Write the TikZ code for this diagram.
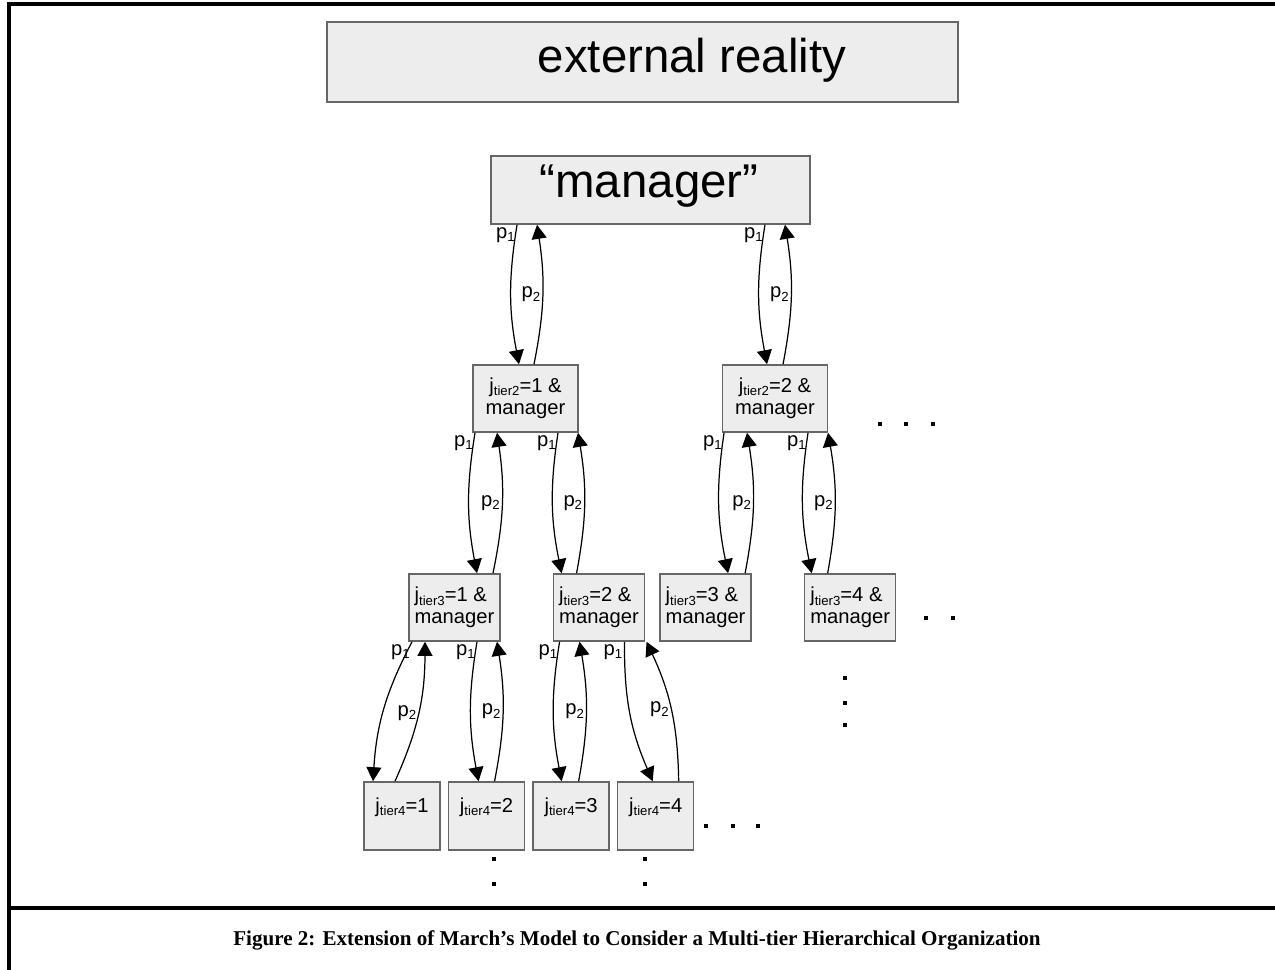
\documentclass[tikz,border=0pt]{standalone}
\usepackage{fontspec}
\setmainfont{Liberation Sans}
\newfontfamily\capfont{Liberation Serif}
\usetikzlibrary{arrows.meta,positioning}
\newcommand{\lowsub}[1]{\raisebox{-0.3ex}{\fontsize{7.5}{8}\selectfont #1}}

\begin{document}
\begin{tikzpicture}[x=0.02cm,y=-0.02cm,>={Triangle[length=8pt,width=8.5pt]},thick,
  box/.style={rectangle,draw=black!60,fill=black!7,line width=0.9pt,inner sep=0pt},
  bigtxt/.style={font=\fontsize{27}{30}\selectfont},
  midbox/.style={box,minimum width=2.1cm,minimum height=1.34cm,align=center,font=\fontsize{11.5}{12.5}\selectfont},
  subbox/.style={box,minimum width=1.82cm,minimum height=1.34cm,align=left,font=\fontsize{11.5}{12.3}\selectfont},
  leafbox/.style={box,minimum width=1.52cm,minimum height=1.36cm,align=left,font=\fontsize{11.5}{12.3}\selectfont},
  lbl/.style={font=\fontsize{11.5}{12}\selectfont,inner sep=1pt},
  link/.style={->,line width=0.7pt,bend right=10}]
  \useasboundingbox (0,0) rectangle (1275,970);
  % frame
  \draw[line width=2.3pt] (1275,4) -- (9,4) -- (9,970);
  \draw[line width=2.3pt] (9,908) -- (1275,908);

  \node[box,minimum width=12.62cm,minimum height=1.6cm] (reality) at (642.5,62) {};
  \node[bigtxt] (realitytxt) at (692,60) {external reality};
  \node[box,minimum width=6.38cm,minimum height=1.36cm] (mgr) at (650.5,190) {};
  \node[bigtxt] (mgrtxt) at (649,186) {“manager”};

  \node[midbox] (a2) at (525.5,398.5) {j\lowsub{tier2}=1 \&\\manager};
  \node[midbox] (b2) [right=2.86cm of a2] {j\lowsub{tier2}=2 \&\\manager};

  \node[subbox] (a3) at (454.5,607.5) {j\lowsub{tier3}=1 \&\\manager};
  \node[subbox] (b3) [right=1.04cm of a3] {j\lowsub{tier3}=2 \&\\manager};
  \node[subbox] (c3) [right=0.28cm of b3] {j\lowsub{tier3}=3 \&\\manager};
  \node[subbox] (d3) [right=1.04cm of c3] {j\lowsub{tier3}=4 \&\\manager};

  \node[leafbox] (t1) at (402,816) {j\lowsub{tier4}=1\\\mbox{}};
  \node[leafbox] (t2) [right=0.14cm of t1] {j\lowsub{tier4}=2\\\mbox{}};
  \node[leafbox] (t3) [right=0.14cm of t2] {j\lowsub{tier4}=3\\\mbox{}};
  \node[leafbox] (t4) [right=0.14cm of t3] {j\lowsub{tier4}=4\\\mbox{}};

  % p1 down, p2 up
  \draw[link] ([xshift=-2.67cm]mgr.south) to node[pos=0,anchor=north east,lbl] {p\lowsub{1}} ([xshift=-0.13cm]a2.north);
  \draw[link] ([xshift=0.17cm]a2.north) to node[midway,left,lbl] {p\lowsub{2}} ([xshift=-2.27cm]mgr.south);
  \draw[link] ([xshift=2.29cm]mgr.south) to node[pos=0,anchor=north east,lbl] {p\lowsub{1}} ([xshift=-0.16cm]b2.north);
  \draw[link] ([xshift=0.16cm]b2.north) to node[midway,left,lbl] {p\lowsub{2}} ([xshift=2.69cm]mgr.south);

  \draw[link] ([xshift=-1.01cm]a2.south) to node[pos=0,anchor=north east,lbl] {p\lowsub{1}} ([xshift=0.45cm]a3.north);
  \draw[link] ([xshift=0.77cm]a3.north) to node[midway,left,lbl] {p\lowsub{2}} ([xshift=-0.57cm]a2.south);
  \draw[link] ([xshift=0.65cm]a2.south) to node[pos=0,anchor=north east,lbl] {p\lowsub{1}} ([xshift=-0.75cm]b3.north);
  \draw[link] ([xshift=-0.45cm]b3.north) to node[midway,left,lbl] {p\lowsub{2}} ([xshift=1.05cm]a2.south);

  \draw[link] ([xshift=-1.02cm]b2.south) to node[pos=0,anchor=north east,lbl] {p\lowsub{1}} ([xshift=0.45cm]c3.north);
  \draw[link] ([xshift=0.79cm]c3.north) to node[midway,left,lbl] {p\lowsub{2}} ([xshift=-0.56cm]b2.south);
  \draw[link] ([xshift=0.66cm]b2.south) to node[pos=0,anchor=north east,lbl] {p\lowsub{1}} ([xshift=-0.77cm]d3.north);
  \draw[link] ([xshift=-0.45cm]d3.north) to node[midway,left,lbl] {p\lowsub{2}} ([xshift=1.06cm]b2.south);

  \draw[link,bend right=12] ([xshift=-0.85cm]a3.south) to node[pos=0,anchor=north east,lbl] {p\lowsub{1}} ([xshift=-0.58cm]t1.north);
  \draw[link,bend right=12] ([xshift=-0.14cm]t1.north) to node[midway,left,lbl] {p\lowsub{2}} ([xshift=-0.59cm]a3.south);
  \draw[link] ([xshift=0.45cm]a3.south) to node[pos=0,anchor=north east,lbl] {p\lowsub{1}} ([xshift=-0.16cm]t2.north);
  \draw[link] ([xshift=0.16cm]t2.north) to node[midway,left,lbl] {p\lowsub{2}} ([xshift=0.85cm]a3.south);

  \draw[link] ([xshift=-0.79cm]b3.south) to node[pos=0,anchor=north east,lbl] {p\lowsub{1}} ([xshift=-0.19cm]t3.north);
  \draw[link] ([xshift=0.15cm]t3.north) to node[midway,left,lbl] {p\lowsub{2}} ([xshift=-0.39cm]b3.south);
  \draw[link,bend right=12] ([xshift=0.51cm]b3.south) to node[pos=0,anchor=north east,lbl] {p\lowsub{1}} ([xshift=-0.06cm]t4.north);
  \draw[link,bend right=12] ([xshift=0.46cm]t4.north) to node[midway,left,lbl] {p\lowsub{2}} ([xshift=0.95cm]b3.south);

  % dots
  \foreach \p in {(880,424),(906,424),(933,424),(926,618),(953,618),
    (845,678),(845,703),(845,725),(706,826),(733,826),(758,826),
    (494,859),(494,884),(645,859),(645,884)}
    \fill[shift={\p}] (-2.4,-2.4) rectangle (2.4,2.4);

  \node[font=\capfont\bfseries\fontsize{12}{14}\selectfont] (caption) at (637,940)
    {Figure 2: Extension of March’s Model to Consider a Multi-tier Hierarchical Organization};
\end{tikzpicture}
\end{document}
